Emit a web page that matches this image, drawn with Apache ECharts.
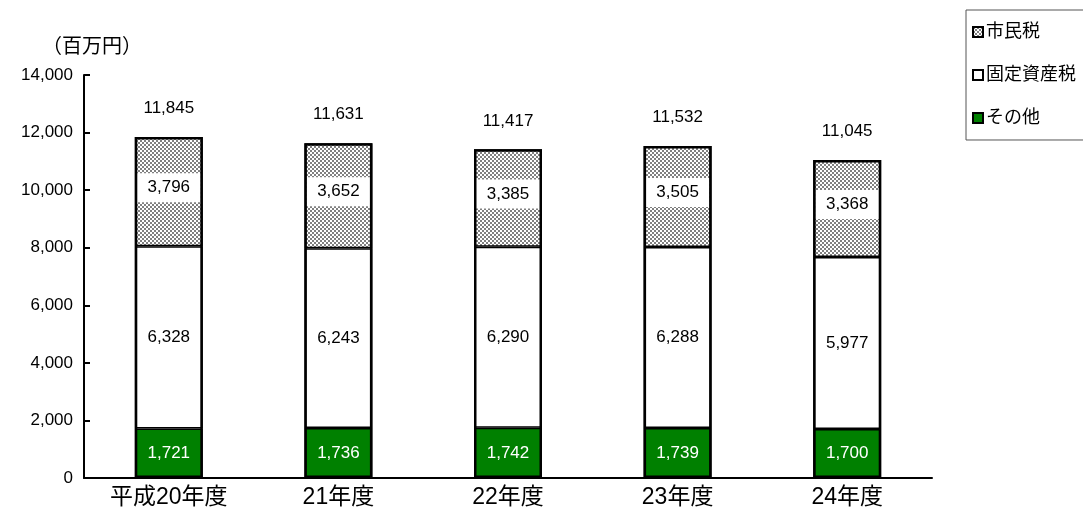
<!DOCTYPE html>
<html>
<head>
<meta charset="utf-8">
<script src="https://cdn.jsdelivr.net/npm/echarts@6/dist/echarts.min.js"></script>
<style>
html, body { margin: 0; padding: 0; background: #fff; }
#main { width: 1083px; height: 517px; }
</style>
</head>
<body>
<div id="main"></div>
<script>
const categories = ['平成20年度', '21年度', '22年度', '23年度', '24年度']
const sonota = [1721, 1736, 1742, 1739, 1700]
const kotei = [6328, 6243, 6290, 6288, 5977]
const shimin = [3796, 3652, 3385, 3505, 3368]
const totals = [11845, 11631, 11417, 11532, 11045]

const FONT = '"Liberation Sans", "Noto Sans CJK JP", sans-serif'

// 網掛けパターン
function makePattern() {
    const c = document.createElement('canvas')
    c.width = 4
    c.height = 4
    const ctx = c.getContext('2d')
    ctx.fillStyle = '#ffffff'
    ctx.fillRect(0, 0, 4, 4)
    ctx.fillStyle = '#808080'
    ctx.fillRect(0, 0, 2, 2)
    ctx.fillRect(2, 2, 2, 2)
    return { image: c, repeat: 'repeat' }
}

const fmt = v => Number(v).toLocaleString('en-US')

const chart = echarts.init(document.getElementById('main'))
const barBase = {
    type: 'bar',
    stack: 'tax',
    barWidth: 68,
    barGap: '-100%'
}
chart.setOption({
    animation: false,
    textStyle: { fontFamily: FONT },
    grid: { left: 84, right: 151, top: 75, bottom: 39 },
    legend: {
        orient: 'vertical',
        left: 966,
        top: 10,
        width: 140,
        padding: [13, 60, 13, 6],
        itemGap: 25,
        itemWidth: 10,
        itemHeight: 10,
        borderColor: '#555',
        borderWidth: 1,
        borderRadius: 0,
        icon: 'rect',
        textStyle: { fontSize: 18, color: '#000', fontFamily: FONT, padding: [0, 0, 0, -2] },
        data: ['市民税', '固定資産税', 'その他']
    },
    xAxis: {
        type: 'category',
        data: categories,
        axisLine: { lineStyle: { color: '#000', width: 2 } },
        axisTick: { inside: true, length: 7, lineStyle: { color: '#000', width: 2 } },
        axisLabel: { fontSize: 23, color: '#000', margin: 8 }
    },
    yAxis: {
        type: 'value',
        min: 0,
        max: 14000,
        interval: 2000,
        name: '（百万円）',
        nameLocation: 'end',
        nameGap: 20,
        nameTextStyle: {
            fontSize: 20, color: '#000', align: 'center', padding: [0, 0, 0, 16],
            fontFamily: '"Noto Sans CJK JP"'
        },
        axisLine: { show: true, lineStyle: { color: '#000', width: 2 } },
        axisTick: { show: true, inside: true, length: 6, lineStyle: { color: '#000', width: 2 } },
        axisLabel: { fontSize: 17, color: '#000', margin: 11, formatter: v => fmt(v) },
        splitLine: { show: false }
    },
    series: [
        Object.assign({}, barBase, {
            name: 'その他',
            data: sonota,
            itemStyle: { color: '#008000', borderColor: '#000', borderWidth: 1.5 },
            label: { show: true, position: 'inside', color: '#fff', fontSize: 17, formatter: p => fmt(p.value) }
        }),
        Object.assign({}, barBase, {
            name: '固定資産税',
            data: kotei,
            itemStyle: { color: '#ffffff', borderColor: '#000', borderWidth: 1.5 },
            label: { show: true, position: 'inside', color: '#000', fontSize: 17, formatter: p => fmt(p.value) }
        }),
        Object.assign({}, barBase, {
            name: '市民税',
            data: shimin,
            itemStyle: { color: makePattern(), borderColor: '#000', borderWidth: 1.5 },
            label: {
                show: true, position: 'inside', color: '#000', fontSize: 17,
                backgroundColor: '#fff', padding: [6, 0], width: 64, lineHeight: 17,
                align: 'center', offset: [0, -4],
                formatter: p => fmt(p.value)
            }
        }),
        // 合計（外枠とラベル）
        {
            name: '合計',
            type: 'bar',
            stack: 'total',
            barWidth: 68,
            barGap: '-100%',
            data: totals,
            silent: true,
            itemStyle: { color: 'rgba(0,0,0,0)', borderColor: '#000', borderWidth: 2.5 },
            label: {
                show: true, position: 'top', distance: 20, color: '#000', fontSize: 17,
                formatter: p => fmt(p.value)
            },
            z: 3
        }
    ]
})
</script>
</body>
</html>
